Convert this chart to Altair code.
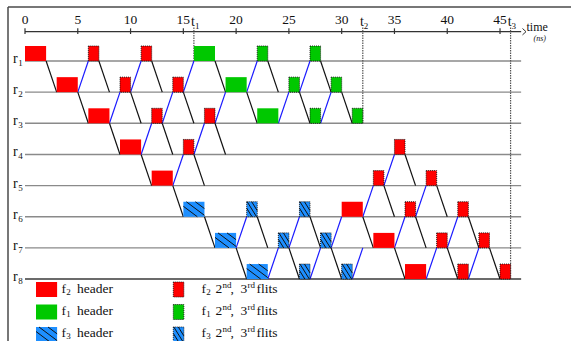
import altair as alt
import pandas as pd

# ---------------- layout ----------------
W, H = 571, 341
X0_PX, PX_PER_NS = 25.0, 10.556     # position of t = 0 and pixels per ns
Y1_PX, PX_PER_ROW = 61.0, 31.15     # baseline of router r1 and router spacing
BOX_PX = 15.0                       # height of a flit box
FONT = "'Liberation Serif', 'Times New Roman', 'DejaVu Serif', serif"


def t_at(px):
    return (px - X0_PX) / PX_PER_NS


def r_at(py):
    return 1 + (py - Y1_PX) / PX_PER_ROW


BOX_H = BOX_PX / PX_PER_ROW
HEADER_NS, FLIT_NS = 2, 1
ROW_LINE_END = 47

XS = alt.Scale(domain=[t_at(0), t_at(W)], nice=False, zero=False)
YS = alt.Scale(domain=[r_at(0), r_at(H)], nice=False, zero=False, reverse=True)

RED, GREEN, BLUE = "#ff0000", "#00c800", "#1e8fff"

# ---------------- data ----------------
TICKS = [0, 5, 10, 15, 20, 25, 30, 35, 40, 45]
ROUTERS = [1, 2, 3, 4, 5, 6, 7, 8]

# flow f2 (red)
F2_HEADER_ROW = [1, 2, 3, 4, 5, 6, 7, 8]
F2_HEADER_T = [0, 3, 6, 9, 12, 30, 33, 36]
F2_FLIT_ROW = [1, 1, 2, 2, 3, 3, 4, 4, 5, 5, 6, 6, 7, 7, 8, 8]
F2_FLIT_T = [6, 11, 9, 14, 12, 17, 15, 35, 33, 38, 36, 41, 39, 43, 41, 45]
# flow f1 (green)
F1_HEADER_ROW = [1, 2, 3]
F1_HEADER_T = [16, 19, 22]
F1_FLIT_ROW = [1, 1, 2, 2, 3, 3]
F1_FLIT_T = [22, 27, 25, 29, 27, 31]
# flow f3 (blue, hatched)
F3_HEADER_ROW = [6, 7, 8]
F3_HEADER_T = [15, 18, 21]
F3_FLIT_ROW = [6, 6, 7, 7, 8, 8]
F3_FLIT_T = [21, 26, 24, 28, 26, 30]

# forward hops: leave router r at t, arrive at router r+1 at t+1
HOP_ROW = [1, 1, 1, 1, 1, 1, 2, 2, 2, 2, 2, 2, 3, 3, 3, 4, 4, 4, 5, 5, 5,
           6, 6, 6, 6, 6, 6, 7, 7, 7, 7, 7, 7]
HOP_T = [2, 7, 12, 18, 23, 28, 5, 10, 15, 21, 26, 30, 8, 13, 18, 11, 16, 36,
         14, 34, 39, 17, 22, 27, 32, 37, 42, 20, 25, 29, 35, 40, 44]

# returns: leave router r at t, arrive at router r-1 at t+1
BACK_ROW = [2, 2, 2, 2, 2, 3, 3, 3, 3, 3, 4, 4, 5, 5, 6, 6, 7, 7, 7, 7, 7,
            8, 8, 8, 8, 8]
BACK_T = [5, 10, 15, 21, 26, 8, 13, 18, 24, 28, 11, 16, 14, 34, 32, 37,
          20, 25, 29, 35, 40, 23, 27, 31, 38, 42]

# time markers t1..t3 and the router each one reaches down to
MARK_T = [16, 32, 46]
MARK_ROW = [1, 3, 8]
MARK_SUB = ["1", "2", "3"]

LEGEND_FLOW = ["2", "1", "3"]
LEGEND_COLOR = [RED, GREEN, BLUE]


# ---------------- tables ----------------
def boxes(rows, starts, length, color, kind, hatched):
    return pd.DataFrame({
        "row": rows,
        "top": [r - BOX_H for r in rows],
        "t0": starts,
        "t1": [s + length for s in starts],
        "color": color,
        "kind": kind,
        "hatched": hatched,
    })


box_df = pd.concat([
    boxes(F2_HEADER_ROW, F2_HEADER_T, HEADER_NS, RED, "header", False),
    boxes(F1_HEADER_ROW, F1_HEADER_T, HEADER_NS, GREEN, "header", False),
    boxes(F3_HEADER_ROW, F3_HEADER_T, HEADER_NS, BLUE, "header", True),
    boxes(F2_FLIT_ROW, F2_FLIT_T, FLIT_NS, RED, "flit", False),
    boxes(F1_FLIT_ROW, F1_FLIT_T, FLIT_NS, GREEN, "flit", False),
    boxes(F3_FLIT_ROW, F3_FLIT_T, FLIT_NS, BLUE, "flit", True),
], ignore_index=True)

# legend swatches share the same box drawing
LEG_TOPS = [282.0, 304.5, 327.0]
LEG_HDR_X, LEG_FLIT_X = 36.0, 173.3
leg_rows = [r_at(t + BOX_PX) for t in LEG_TOPS]
leg_df = pd.concat(
    [boxes([leg_rows[i]], [t_at(LEG_HDR_X)], HEADER_NS, LEGEND_COLOR[i], "header", LEGEND_FLOW[i] == "3")
     for i in range(3)] +
    [boxes([leg_rows[i]], [t_at(LEG_FLIT_X)], FLIT_NS, LEGEND_COLOR[i], "flit", LEGEND_FLOW[i] == "3")
     for i in range(3)],
    ignore_index=True)

all_boxes = pd.concat([box_df, leg_df], ignore_index=True)


def hatch_segments(df):
    segs = []
    for _, b in df[df["hatched"]].iterrows():
        w_px = (b["t1"] - b["t0"]) * PX_PER_NS
        if b["kind"] == "header":
            slope, offsets = 0.75, [-6.0, 3.0, 12.0]
        else:
            slope, offsets = 1.6, [-4.0, 0.5, 5.0]
        for c in offsets:
            xa = max(c, 0.0)
            xb = min(c + BOX_PX / slope, w_px)
            if xb <= xa:
                continue
            ya, yb = slope * (xa - c), slope * (xb - c)
            segs.append({"x0": b["t0"] + xa / PX_PER_NS, "x1": b["t0"] + xb / PX_PER_NS,
                         "y0": b["top"] + ya / PX_PER_ROW, "y1": b["top"] + yb / PX_PER_ROW})
    return pd.DataFrame(segs)


hatch_df = hatch_segments(all_boxes)

hop_df = pd.DataFrame({"x0": HOP_T, "x1": [t + 1 for t in HOP_T],
                       "y0": HOP_ROW, "y1": [r + 1 for r in HOP_ROW]})
back_df = pd.DataFrame({"x0": BACK_T, "x1": [t + 1 for t in BACK_T],
                        "y0": BACK_ROW, "y1": [r - 1 for r in BACK_ROW]})

row_df = pd.DataFrame({"row": ROUTERS, "x0": 0, "x1": ROW_LINE_END,
                       "color": ["#8a8a8a"] * 7 + ["#3a3a3a"]})

AXIS_Y = r_at(31.7)
tick_df = pd.DataFrame({"t": TICKS, "lab": [str(t) for t in TICKS]})
mark_df = pd.DataFrame({"t": MARK_T, "row": MARK_ROW, "sub": MARK_SUB})

# text pieces (x px, baseline px, text, font size)
pieces = []
for r in ROUTERS:
    base = Y1_PX + (r - 1) * PX_PER_ROW
    pieces.append((13.0, base + 2.0, "r", 14))
    pieces.append((18.3, base + 5.0, str(r), 9))
LEG_BASE = [292.5, 314.5, 336.5]
for i in range(3):
    b = LEG_BASE[i]
    f = LEGEND_FLOW[i]
    pieces += [(61.5, b, "f", 13.5), (66.2, b + 2.5, f, 9), (77.0, b, "header", 13.5)]
    x = 201.5
    pieces += [(x, b, "f", 13.5), (x + 4.7, b + 2.5, f, 9),
               (x + 14.0, b, "2", 13.5), (x + 21.0, b - 5.0, "nd", 9),
               (x + 29.0, b, ",", 13.5),
               (x + 39.0, b, "3", 13.5), (x + 46.0, b - 5.0, "rd", 9),
               (x + 55.0, b, "flits", 13.5)]
pieces += [(526.5, 30.5, "time", 12)]
text_df = pd.DataFrame(pieces, columns=["px", "py", "text", "fs"])
text_df["t"] = text_df["px"].map(t_at)
text_df["r"] = text_df["py"].map(r_at)

unit_df = pd.DataFrame({"px": [533.5], "py": [41.0], "text": ["(ns)"]})
unit_df["t"] = unit_df["px"].map(t_at)
unit_df["r"] = unit_df["py"].map(r_at)

one = pd.DataFrame({"a": [0]})


def seg_layer(df, color, width, dash=None):
    kw = dict(color=color, strokeWidth=width)
    if dash:
        kw["strokeDash"] = dash
    return alt.Chart(df).mark_rule(**kw).encode(
        x=alt.X("x0:Q", scale=XS, axis=None), x2="x1:Q",
        y=alt.Y("y0:Q", scale=YS, axis=None), y2="y1:Q")


# ---------------- layers ----------------
frame_top = alt.Chart(one).mark_rule(color="#4a4a4a", strokeWidth=1.5).encode(
    x=alt.value(8), x2=alt.value(W), y=alt.value(7))
frame_left = alt.Chart(one).mark_rule(color="#4a4a4a", strokeWidth=1.5).encode(
    x=alt.value(8), y=alt.value(7), y2=alt.value(H))

row_lines = alt.Chart(row_df).mark_rule(strokeWidth=1.4).encode(
    x=alt.X("x0:Q", scale=XS, axis=None), x2="x1:Q",
    y=alt.Y("row:Q", scale=YS, axis=None),
    color=alt.Color("color:N", scale=None))

axis_df = pd.DataFrame({"x0": [0], "x1": [ROW_LINE_END], "y0": [AXIS_Y], "y1": [AXIS_Y]})
axis_line = seg_layer(axis_df, "#333", 1.2)
arrow_a = alt.Chart(one).mark_rule(color="#333", strokeWidth=1).encode(
    x=alt.value(522.5), x2=alt.value(526), y=alt.value(28.5), y2=alt.value(31.7))
arrow_b = alt.Chart(one).mark_rule(color="#333", strokeWidth=1).encode(
    x=alt.value(522.5), x2=alt.value(526), y=alt.value(34.9), y2=alt.value(31.7))

tick_df["y0"] = r_at(28.3)
tick_df["y1"] = r_at(34.0)
tick_df["yl"] = r_at(23.5)
ticks = alt.Chart(tick_df).mark_rule(color="#333", strokeWidth=1.2).encode(
    x=alt.X("t:Q", scale=XS, axis=None),
    y=alt.Y("y0:Q", scale=YS, axis=None), y2="y1:Q")
tick_labels = alt.Chart(tick_df).mark_text(
    font=FONT, fontSize=13.5, align="center", baseline="alphabetic", color="#111").encode(
    x=alt.X("t:Q", scale=XS, axis=None),
    y=alt.Y("yl:Q", scale=YS, axis=None), text="lab:N")

mark_df["ytop"] = r_at(27.5)
mark_df["yt"] = r_at(26.0)
mark_df["ys"] = r_at(29.0)
mark_lines = alt.Chart(mark_df).mark_rule(color="#555", strokeWidth=1.2, strokeDash=[1.5, 1]).encode(
    x=alt.X("t:Q", scale=XS, axis=None),
    y=alt.Y("ytop:Q", scale=YS, axis=None), y2="row:Q")
mark_t = alt.Chart(mark_df).mark_text(
    font=FONT, fontSize=14, align="right", baseline="alphabetic", dx=1, color="#111", text="t").encode(
    x=alt.X("t:Q", scale=XS, axis=None), y=alt.Y("yt:Q", scale=YS, axis=None))
mark_sub = alt.Chart(mark_df).mark_text(
    font=FONT, fontSize=9, align="left", baseline="alphabetic", dx=1, color="#111").encode(
    x=alt.X("t:Q", scale=XS, axis=None), y=alt.Y("ys:Q", scale=YS, axis=None), text="sub:N")

hops = seg_layer(hop_df, "#111", 1.2)
backs = seg_layer(back_df, "#1a1aff", 1.2)

headers = alt.Chart(all_boxes[all_boxes["kind"] == "header"]).mark_rect().encode(
    x=alt.X("t0:Q", scale=XS, axis=None), x2="t1:Q",
    y=alt.Y("row:Q", scale=YS, axis=None), y2="top:Q",
    color=alt.Color("color:N", scale=None))
flits = alt.Chart(all_boxes[all_boxes["kind"] == "flit"]).mark_rect(
    stroke="#111", strokeWidth=0.9, strokeDash=[1, 1]).encode(
    x=alt.X("t0:Q", scale=XS, axis=None), x2="t1:Q",
    y=alt.Y("row:Q", scale=YS, axis=None), y2="top:Q",
    color=alt.Color("color:N", scale=None))
hatching = seg_layer(hatch_df, "#111", 1.0)

texts = alt.Chart(text_df).mark_text(
    font=FONT, align="left", baseline="alphabetic", color="#111").encode(
    x=alt.X("t:Q", scale=XS, axis=None), y=alt.Y("r:Q", scale=YS, axis=None),
    text="text:N", size=alt.Size("fs:Q", scale=None))
unit_text = alt.Chart(unit_df).mark_text(
    font=FONT, fontSize=8, fontStyle="italic", align="left", baseline="alphabetic", color="#111").encode(
    x=alt.X("t:Q", scale=XS, axis=None), y=alt.Y("r:Q", scale=YS, axis=None), text="text:N")

chart = alt.layer(
    frame_top, frame_left, row_lines, axis_line, arrow_a, arrow_b, ticks, tick_labels,
    mark_lines, mark_t, mark_sub, hops, backs, headers, flits, hatching, texts, unit_text,
).properties(
    width=W, height=H, autosize=alt.AutoSizeParams(type="none"), padding=0,
    background="white",
).configure_view(stroke=None)

chart.save("out.html", embed_options={"renderer": "svg", "actions": False})
